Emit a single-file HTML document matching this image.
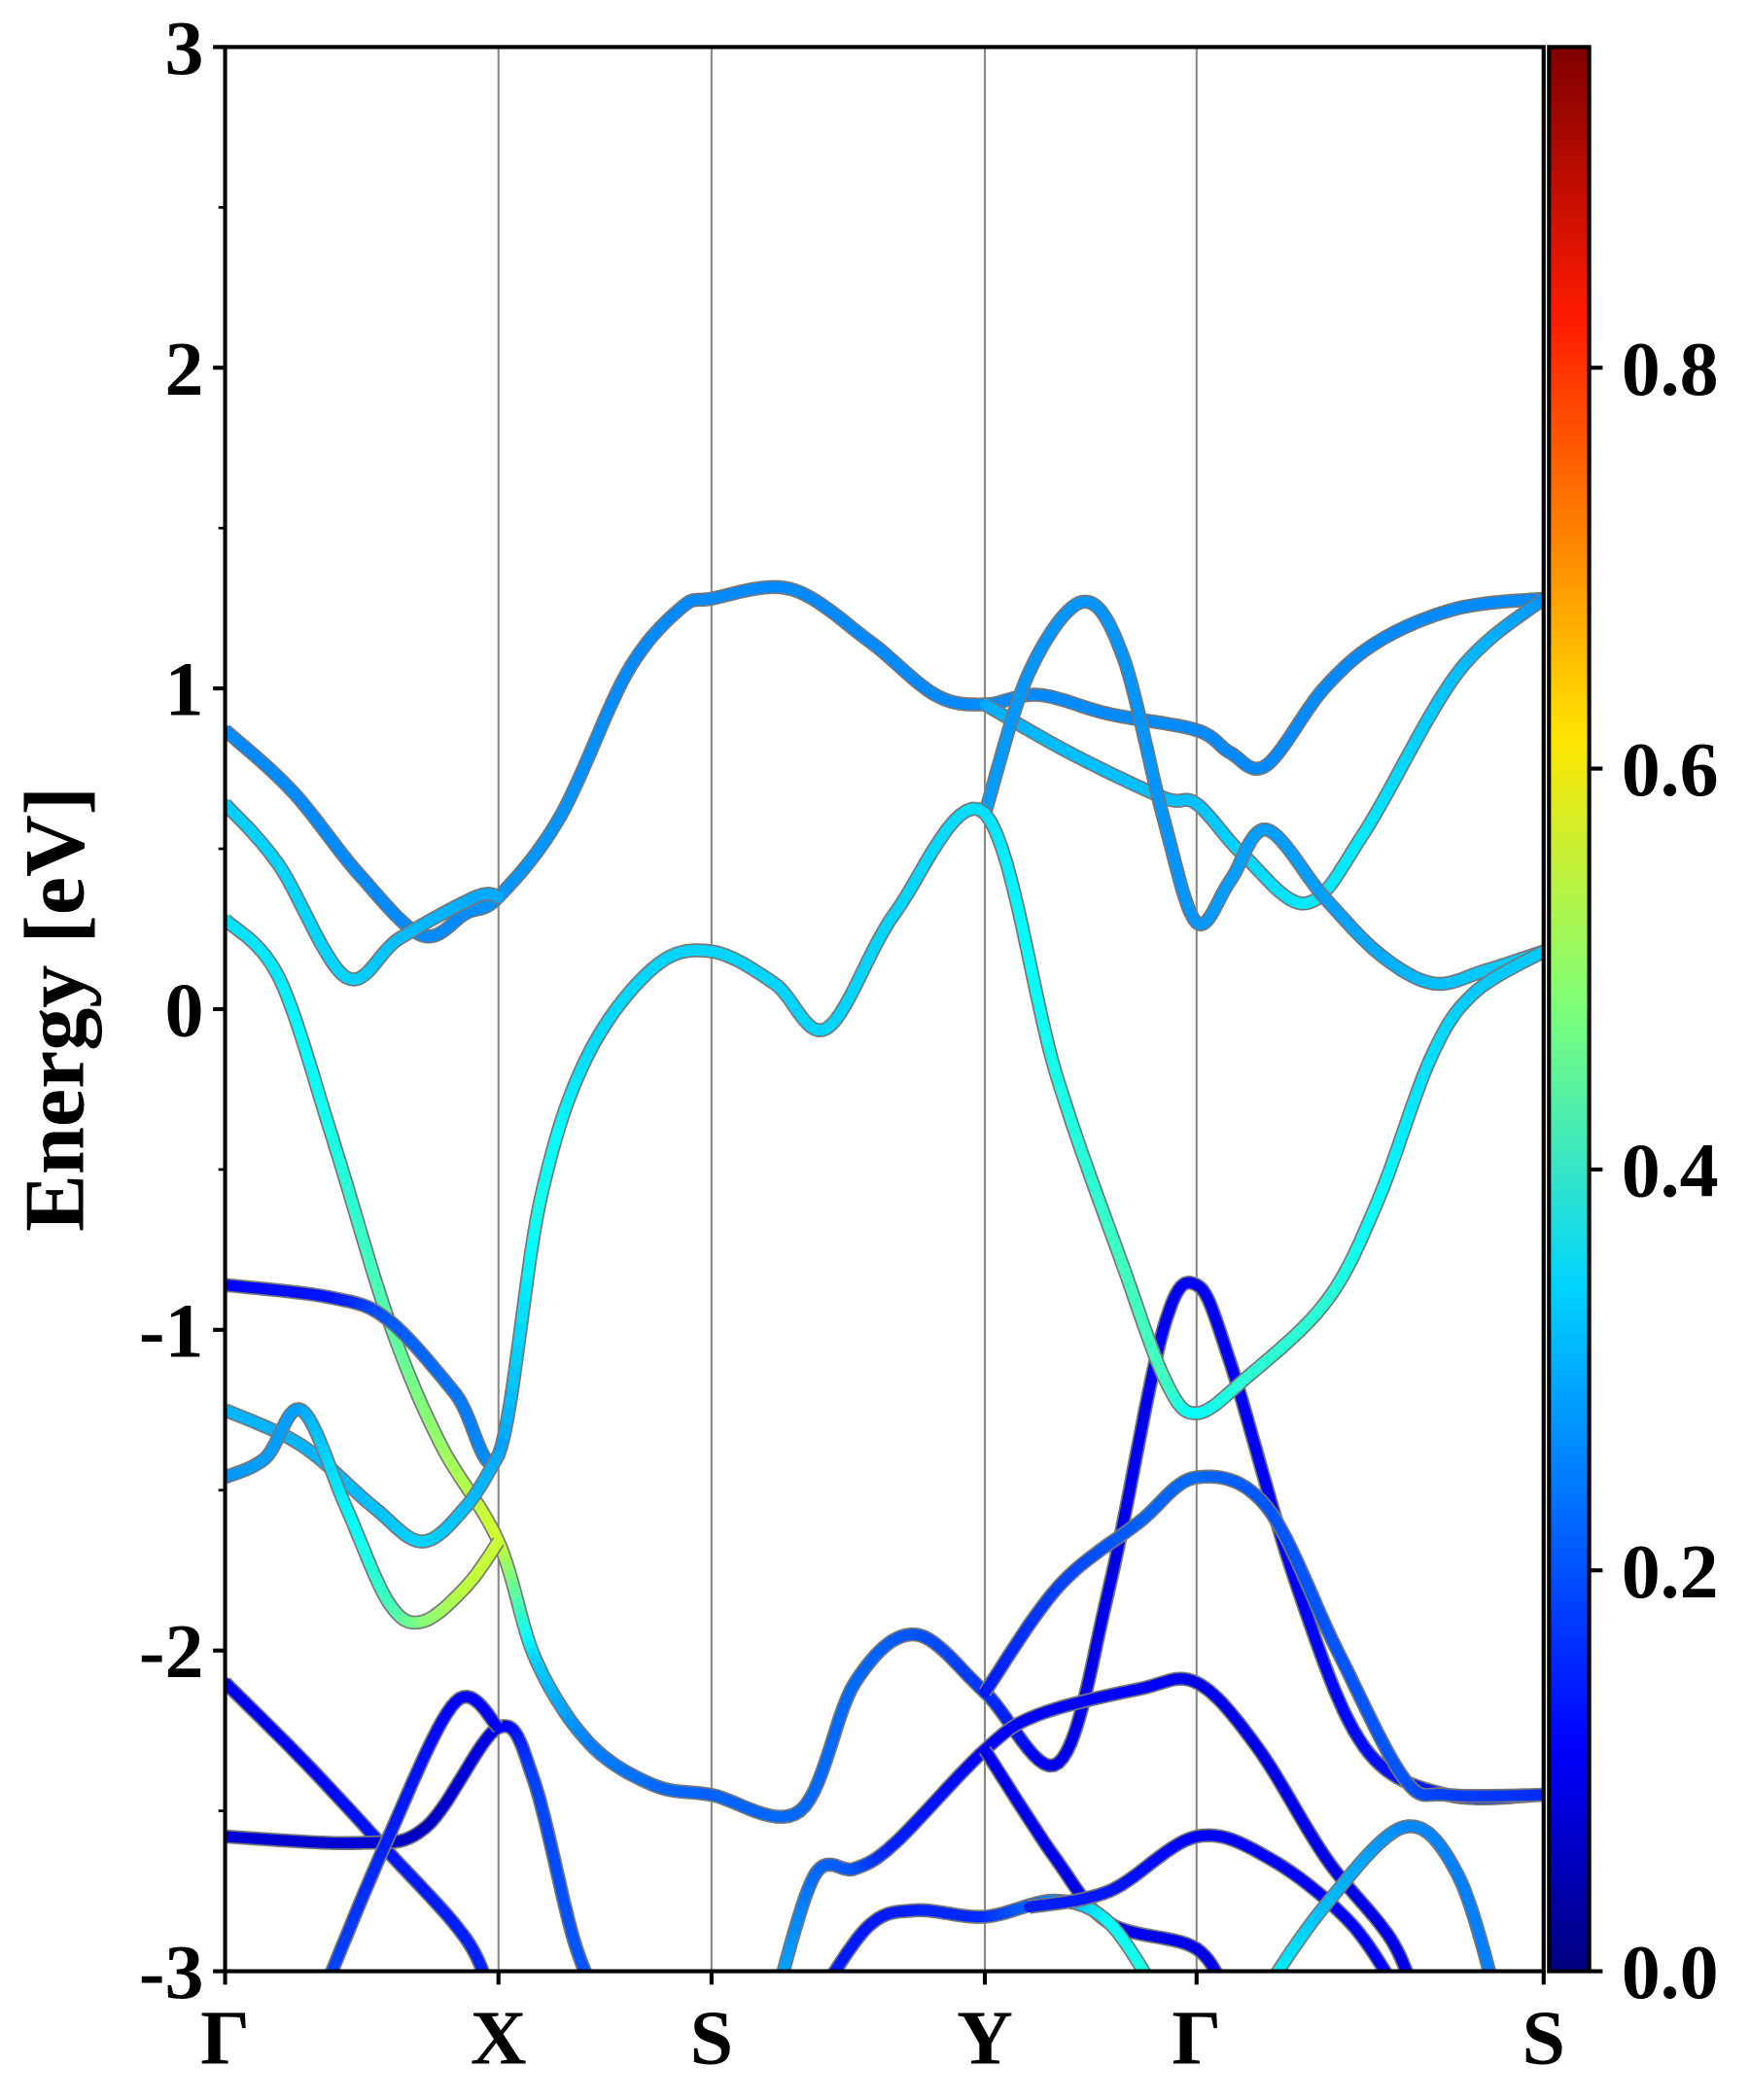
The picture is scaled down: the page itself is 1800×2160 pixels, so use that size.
<!DOCTYPE html>
<html><head><meta charset="utf-8"><style>
html,body{margin:0;padding:0;background:#fff;}
svg{display:block;}
text{font-family:"Liberation Serif",serif;font-weight:bold;fill:#000;}
</style></head><body>
<svg id="chart" width="1800" height="2160" viewBox="0 0 1306 1567" xmlns="http://www.w3.org/2000/svg">
<defs>
<clipPath id="plotclip"><rect x="168" y="35" width="984" height="1436"/></clipPath>
<linearGradient id="jet" x1="0" y1="1" x2="0" y2="0">
<stop offset="0" stop-color="#00007f"/><stop offset="0.116" stop-color="#0000ff"/><stop offset="0.356" stop-color="#00d4ff"/><stop offset="0.5" stop-color="#7dff7a"/><stop offset="0.64" stop-color="#ffe500"/><stop offset="0.86" stop-color="#ff1a00"/><stop offset="1" stop-color="#7f0000"/>
</linearGradient>
</defs>
<g id="vlines"></g>
<g id="bands" clip-path="url(#plotclip)"></g>
<rect x="168" y="35" width="984" height="1436" fill="none" stroke="#000" stroke-width="3"/>
<g id="axes"></g>
<rect x="1156" y="35" width="30" height="1436" fill="url(#jet)" stroke="#000" stroke-width="3"/>
<text transform="translate(62,753) rotate(-90)" text-anchor="middle" font-size="64">Energy [eV]</text>
</svg>
<script>
const kLabels=["Γ","X","S","Y","Γ","S"];
const kPos=[0,2.04,3.63,5.67,7.25,9.84];
const yTicks=[-3,-2,-1,0,1,2,3];
const yMinor=[-2.5,-1.5,-0.5,0.5,1.5,2.5];
const cbTicks=[0,0.2,0.4,0.6,0.8];
const cbTickLabels=["0.0","0.2","0.4","0.6","0.8"];
const cbMax=0.96;
// bands: [k, E, weight]
const band1=[[0,.87,.25],[.5,.68,.25],[1.0,.42,.25],[1.47,.23,.25],[1.8,.3,.25],[2.04,.35,.26],[2.5,.6,.26],[3.0,1.05,.25],[3.4,1.25,.25],[3.63,1.28,.25],[4.22,1.31,.25],[4.8,1.15,.25],[5.3,.98,.25],[5.67,.95,.25],[6.07,.98,.25],[6.6,.92,.25],[7.25,.87,.25],[7.5,.8,.25],[7.77,.76,.25],[8.2,1.0,.25],[8.62,1.15,.25],[9.2,1.25,.25],[9.84,1.28,.25]];
const band2=[[0,.64,.31],[.4,.45,.32],[.9,.1,.32],[1.3,.22,.3],[1.87,.35,.28],[2.04,.35,.28]];
const band3=[[5.67,.95,.28],[6.3,.8,.3],[7.0,.66,.3],[7.25,.64,.3],[7.6,.48,.32],[8.07,.33,.34],[8.5,.55,.34],[9.2,1.05,.3],[9.84,1.28,.26]];
const band4=[[5.67,.61,.27],[6.0,1.05,.26],[6.4,1.27,.26],[6.7,1.1,.26],[7.0,.6,.26],[7.25,.27,.26],[7.5,.4,.27],[7.77,.56,.27],[8.2,.35,.27],[8.62,.17,.28],[9.02,.08,.3],[9.4,.12,.31],[9.84,.18,.31]];
const band5=[[0,.28,.33],[.4,.1,.34],[.8,-.4,.38],[1.22,-.97,.44],[1.6,-1.35,.5],[2.04,-1.66,.56],[2.32,-2.03,.32],[2.72,-2.29,.24],[3.2,-2.42,.22],[3.63,-2.45,.21],[4.29,-2.5,.22],[4.7,-2.1,.22],[5.15,-1.95,.2],[5.67,-2.13,.17],[6.22,-2.35,.1],[6.6,-1.8,.1],[7.0,-1.0,.11],[7.25,-.86,.11],[7.5,-1.1,.11],[8.0,-1.8,.12],[8.5,-2.3,.13],[9.12,-2.45,.15],[9.84,-2.45,.15]];
const band6=[[0,-.86,.12],[.8,-.9,.14],[1.22,-.97,.2],[1.72,-1.2,.23],[2.04,-1.39,.26],[2.35,-.6,.38],[2.7,-.15,.33],[3.2,.13,.32],[3.63,.18,.32],[4.1,.08,.32],[4.49,-.06,.32],[5.0,.3,.32],[5.67,.61,.33],[6.2,-.2,.38],[6.7,-.8,.42],[7.02,-1.16,.42],[7.25,-1.26,.36],[7.62,-1.15,.4],[8.22,-.91,.4],[8.6,-.6,.36],[9.0,-.15,.33],[9.32,.05,.31],[9.84,.18,.31]];
const band7=[[0,-1.25,.29],[.57,-1.36,.29],[1.1,-1.55,.3],[1.47,-1.66,.32],[1.8,-1.55,.3],[2.04,-1.39,.28]];
const band8=[[0,-1.46,.26],[.3,-1.4,.27],[.57,-1.25,.27],[.9,-1.55,.35],[1.22,-1.85,.42],[1.47,-1.91,.48],[1.8,-1.8,.54],[2.04,-1.66,.55]];
const band9=[[5.67,-2.13,.14],[6.22,-1.8,.18],[6.82,-1.6,.21],[7.25,-1.46,.22],[7.77,-1.55,.2],[8.3,-2.0,.2],[8.8,-2.4,.2],[9.12,-2.45,.18],[9.84,-2.45,.16]];
const band10=[[0,-2.1,.1],[.6,-2.35,.12],[1.2,-2.62,.14],[1.8,-2.9,.15],[2.0,-3.1,.15]];
const band11=[[0,-2.58,.08],[1.0,-2.6,.08],[1.5,-2.55,.06],[2.04,-2.24,.1],[2.3,-2.4,.18],[2.6,-2.9,.2],[2.8,-3.1,.2]];
const band12=[[.7,-3.1,.2],[1.2,-2.6,.15],[1.72,-2.16,.12],[2.04,-2.24,.12]];
const band13=[[4.1,-3.1,.3],[4.4,-2.7,.22],[4.7,-2.68,.2],[5.0,-2.6,.15],[5.67,-2.31,.12],[6.07,-2.2,.12],[6.82,-2.12,.12],[7.25,-2.1,.1],[7.7,-2.3,.1],[8.22,-2.65,.1],[8.7,-2.9,.1],[8.9,-3.1,.1]];
const band14=[[5.67,-2.31,.11],[6.2,-2.65,.1],[6.6,-2.85,.1],[7.25,-2.93,.1],[7.5,-3.1,.1]];
const band15=[[4.4,-3.1,.15],[4.8,-2.86,.14],[5.15,-2.81,.15],[5.67,-2.83,.16],[6.2,-2.78,.25],[6.6,-2.85,.36],[7.0,-3.1,.4]];
const band16=[[6.0,-2.8,.15],[6.6,-2.75,.14],[7.25,-2.58,.12],[7.8,-2.65,.12],[8.4,-2.85,.12],[8.8,-3.1,.12]];
const band17=[[7.7,-3.1,.38],[8.2,-2.8,.3],[8.8,-2.55,.25],[9.2,-2.7,.24],[9.5,-3.1,.24]];
const bandList=[band1,band2,band3,band4,band5,band6,band7,band8,band9,band10,band11,band12,band13,band14,band15,band16,band17];

const X0=168,X1=1152,Y0=35,Y1=1471;
function xS(k){return X0+(k-kPos[0])/(kPos[kPos.length-1]-kPos[0])*(X1-X0);}
function yS(e){return Y1-(e+3)/6*(Y1-Y0);}
function cS(v){return Y1-v/cbMax*(Y1-Y0);}
function jet(v){v=Math.max(0,Math.min(1,v/cbMax));
 function c(x){return Math.max(0,Math.min(1,1.5-Math.abs(4*v-x)));}
 const r=c(3),g=c(2),b=c(1);
 return `rgb(${Math.round(r*255)},${Math.round(g*255)},${Math.round(b*255)})`;}
const NS="http://www.w3.org/2000/svg";
function mk(tag,attrs,parent){const e=document.createElementNS(NS,tag);for(const a in attrs)e.setAttribute(a,attrs[a]);parent.appendChild(e);return e;}

const vg=document.getElementById('vlines');
kPos.slice(1,-1).forEach(k=>{const l=mk('line',{x1:xS(k),x2:xS(k),y1:Y0,y2:Y1,stroke:'#888','stroke-width':1.5},vg);

});

function sample(pts){const out=[];
 for(let i=0;i<pts.length-1;i++){
  const p0=pts[Math.max(0,i-1)],p1=pts[i],p2=pts[i+1],p3=pts[Math.min(pts.length-1,i+2)];
  const N=14;
  for(let j=0;j<N;j++){const t=j/N,t2=t*t,t3=t2*t;
   const f=(a,b,c,d)=>0.5*((2*b)+(-a+c)*t+(2*a-5*b+4*c-d)*t2+(-a+3*b-3*c+d)*t3);
   out.push([f(xS(p0[0]),xS(p1[0]),xS(p2[0]),xS(p3[0])),f(yS(p0[1]),yS(p1[1]),yS(p2[1]),yS(p3[1])),p1[2]+(p2[2]-p1[2])*t]);}
 }
 const l=pts[pts.length-1];out.push([xS(l[0]),yS(l[1]),l[2]]);return out;}

const bg=document.getElementById('bands');
bandList.forEach((b,bi)=>{
 const g=mk('g',{},bg);
 
 
 const s=sample(b);
 const d=s.map((p,i)=>(i?'L':'M')+p[0].toFixed(1)+' '+p[1].toFixed(1)).join('');
 const o=mk('path',{d:d,fill:'none',stroke:'#777','stroke-width':10.5,'stroke-linejoin':'round'},g);
 
 
 for(let i=0;i<s.length-1;i++){
  const seg=mk('line',{x1:s[i][0].toFixed(1),y1:s[i][1].toFixed(1),x2:s[i+1][0].toFixed(1),y2:s[i+1][1].toFixed(1),stroke:jet((s[i][2]+s[i+1][2])/2),'stroke-width':8,'stroke-linecap':'round'},g);
  
  
 }
});

const ag=document.getElementById('axes');
yTicks.forEach((v,i)=>{const y=yS(v);
 const t=mk('line',{x1:X0-9,x2:X0,y1:y,y2:y,stroke:'#000','stroke-width':3},ag);
 
 
 const tx=mk('text',{x:X0-16,y:y+20,'text-anchor':'end','font-size':58},ag);tx.textContent=v;
 
 });
yMinor.forEach(v=>{const y=yS(v);
 const t=mk('line',{x1:X0-5,x2:X0,y1:y,y2:y,stroke:'#000','stroke-width':2},ag);
 
 });
kPos.forEach((k,i)=>{const x=xS(k);
 const t=mk('line',{x1:x,x2:x,y1:Y1,y2:Y1+10,stroke:'#000','stroke-width':3},ag);
 
 
 const tx=mk('text',{x:x,y:1540,'text-anchor':'middle','font-size':58},ag);tx.textContent=kLabels[i];
 
 });
cbTicks.forEach((v,i)=>{const y=cS(v);
 const t=mk('line',{x1:1186,x2:1196,y1:y,y2:y,stroke:'#000','stroke-width':3},ag);
 
 
 const tx=mk('text',{x:1210,y:y+20,'font-size':58},ag);tx.textContent=cbTickLabels[i];
 
 });
</script>
</body></html>
